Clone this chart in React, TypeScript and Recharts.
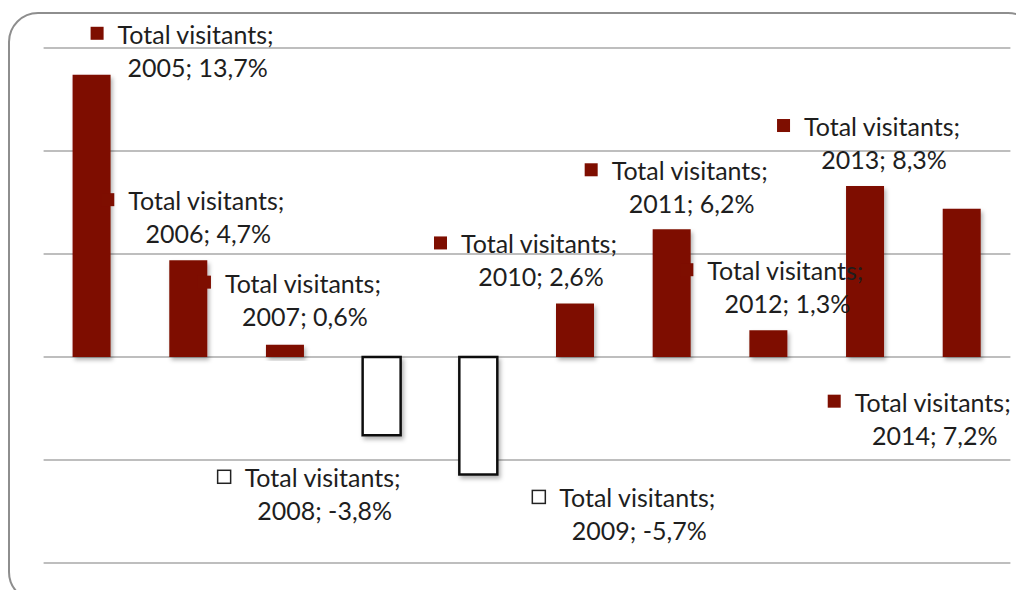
import { Bar, BarChart, CartesianGrid, Cell, LabelList, XAxis, YAxis } from "recharts";

const years = ["2005", "2006", "2007", "2008", "2009", "2010", "2011", "2012", "2013", "2014"];
const visitants = [13.7, 4.7, 0.6, -3.8, -5.7, 2.6, 6.2, 1.3, 8.3, 7.2];
const yTicks = [-10, -5, 0, 5, 10, 15];
const seriesName = "Total visitants";

// where each label sits, measured from the bar centre / bar end (px)
const LABEL_OFFSETS: [number, number][] = [
  [104, -41],
  [18, -60],
  [18, -62],
  [-59, 42],
  [159, 23],
  [-36, -60],
  [18, -59],
  [17, -60],
  [17, -60],
  [-29, 193]
];

const RED = "#7e0e00";
const TEXT = "#1e1e1e";
const FONT = "Lato, 'Open Sans', sans-serif";

const data = years.map((year, i) => ({ year, value: visitants[i] }));

const fmt = (v: number) => v.toFixed(1).replace(".", ",") + "%";

function PointLabel(props: any) {
  const { x, y, width, height, index, value } = props;
  const cx = Number(x) + Number(width) / 2;
  const a = Number(y);
  const b = Number(y) + Number(height);
  const end = value >= 0 ? Math.min(a, b) : Math.max(a, b);
  const [dx, dy] = LABEL_OFFSETS[index];
  const tx = cx + dx;
  const ty = end + dy;
  const neg = value < 0;
  return (
    <g>
      <rect
        x={tx - 78 - 14 - 13}
        y={ty - 7}
        width={13}
        height={13}
        fill={neg ? "#fff" : RED}
        stroke={neg ? "#222" : "none"}
        strokeWidth={1.5}
      />
      <text x={tx} y={ty} textAnchor="middle" dominantBaseline="central" fontFamily={FONT} fontSize={25} fill={TEXT}>
        {seriesName};
      </text>
      <text x={tx + 2} y={ty + 33} textAnchor="middle" dominantBaseline="central" fontFamily={FONT} fontSize={25} fill={TEXT}>
        {years[index]}; {fmt(value)}
      </text>
    </g>
  );
}

export default function App() {
  return (
    <div style={{ position: "absolute", left: 0, top: 0, width: 1016, height: 590, overflow: "hidden", background: "#fff" }}>
      <div
        style={{
          position: "absolute",
          left: 8,
          top: 12,
          width: 1030,
          height: 590,
          border: "2px solid #8e8e8e",
          borderRadius: 30,
          boxSizing: "border-box"
        }}
      />
      <div style={{ position: "absolute", left: 0, top: 0 }}>
        <BarChart width={1016} height={590} data={data} margin={{ top: 48, right: 5.6, bottom: 27, left: 43.6 }} barSize={38}>
          <defs>
            <filter id="shadow" x="-20%" y="-20%" width="150%" height="150%">
              <feDropShadow dx={2} dy={3} stdDeviation={2} floodColor="#000" floodOpacity={0.3} />
            </filter>
          </defs>
          <CartesianGrid vertical={false} stroke="#a8a8a8" strokeWidth={1.5} />
          <XAxis dataKey="year" hide />
          <YAxis hide domain={[-10, 15]} ticks={yTicks} />
          <Bar dataKey="value" isAnimationActive={false}>
            {data.map((d) => (
              <Cell
                key={d.year}
                fill={d.value < 0 ? "#fff" : RED}
                stroke={d.value < 0 ? "#111" : "none"}
                strokeWidth={d.value < 0 ? 2.5 : 0}
                filter="url(#shadow)"
              />
            ))}
            <LabelList dataKey="value" content={PointLabel} />
          </Bar>
        </BarChart>
      </div>
    </div>
  );
}
